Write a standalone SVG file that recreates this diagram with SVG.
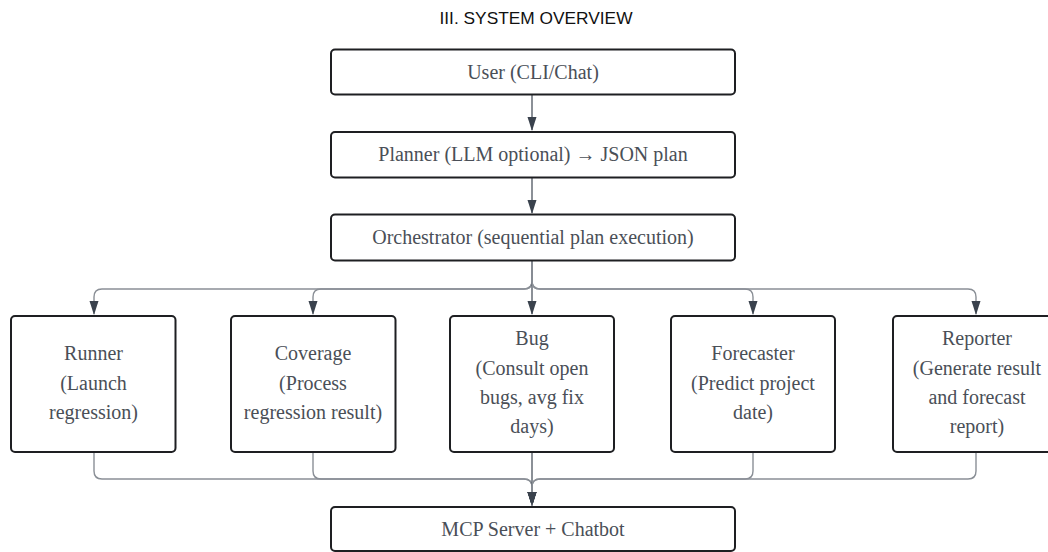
<svg xmlns="http://www.w3.org/2000/svg" width="1048" height="552" viewBox="0 0 1048 552">
<style>
.box{fill:#ffffff;stroke:#1e1f22;stroke-width:2}
.t{font-family:"Liberation Serif","Times New Roman",serif;font-size:20px;fill:#4a4f57;text-anchor:middle}
.c{fill:none;stroke:#8a8f96;stroke-width:1.4}
.cd{fill:none;stroke:#5a616b;stroke-width:1.4}
.title{font-family:"Liberation Sans",Arial,sans-serif;font-size:17px;fill:#111;text-anchor:middle}
</style>
<defs>
<marker id="ah" markerWidth="14" markerHeight="10" refX="13" refY="5" orient="auto" markerUnits="userSpaceOnUse" viewBox="0 0 14 10">
<path d="M0,0.5 L14,5 L0,9.5 Z" fill="#3a424d"/>
</marker>
</defs>
<rect width="1048" height="552" fill="#ffffff"/>
<text class="title" x="536" y="23.5" textLength="193" lengthAdjust="spacingAndGlyphs">III. SYSTEM OVERVIEW</text>

<g id="connectors">
<path class="cd" d="M532,95 V130" marker-end="url(#ah)"/>
<path class="cd" d="M532,178 V213" marker-end="url(#ah)"/>
<path class="c" d="M532,261 V281 Q532,289 524,289 H102 Q94,289 94,297 V314" marker-end="url(#ah)"/>
<path class="c" d="M532,261 V281 Q532,289 524,289 H321 Q313,289 313,297 V314" marker-end="url(#ah)"/>
<path class="cd" d="M532,261 V314" marker-end="url(#ah)"/>
<path class="c" d="M532,261 V281 Q532,289 540,289 H745 Q753,289 753,297 V314" marker-end="url(#ah)"/>
<path class="c" d="M532,261 V281 Q532,289 540,289 H968 Q976,289 976,297 V314" marker-end="url(#ah)"/>
<path class="c" d="M94,452 V471 Q94,479 102,479 H524 Q532,479 532,487 V505" marker-end="url(#ah)"/>
<path class="c" d="M313,452 V471 Q313,479 321,479 H524 Q532,479 532,487 V505" marker-end="url(#ah)"/>
<path class="cd" d="M532,452 V505" marker-end="url(#ah)"/>
<path class="c" d="M753,452 V471 Q753,479 745,479 H540 Q532,479 532,487 V505" marker-end="url(#ah)"/>
<path class="c" d="M976,452 V471 Q976,479 968,479 H540 Q532,479 532,487 V505" marker-end="url(#ah)"/>
</g>

<g id="user">
<rect class="box" x="331" y="49.5" width="404" height="45" rx="4"/>
<text class="t" x="533" y="78.5">User (CLI/Chat)</text>
</g>
<g id="planner">
<rect class="box" x="331" y="132" width="404" height="45.5" rx="4"/>
<text class="t" x="533" y="161">Planner (LLM optional) → JSON plan</text>
</g>
<g id="orchestrator">
<rect class="box" x="331" y="214.5" width="404" height="46" rx="4"/>
<text class="t" x="533" y="244">Orchestrator (sequential plan execution)</text>
</g>
<g id="runner">
<rect class="box" x="11" y="316" width="164.5" height="136" rx="4"/>
<text class="t" x="93.5" y="360">Runner</text>
<text class="t" x="93.5" y="390">(Launch</text>
<text class="t" x="93.5" y="419">regression)</text>
</g>
<g id="coverage">
<rect class="box" x="231" y="316" width="164.5" height="136" rx="4"/>
<text class="t" x="313" y="360">Coverage</text>
<text class="t" x="313" y="390">(Process</text>
<text class="t" x="313" y="419">regression result)</text>
</g>
<g id="bug">
<rect class="box" x="450" y="316" width="164" height="136" rx="4"/>
<text class="t" x="532" y="345">Bug</text>
<text class="t" x="532" y="375">(Consult open</text>
<text class="t" x="532" y="404">bugs, avg fix</text>
<text class="t" x="532" y="433">days)</text>
</g>
<g id="forecaster">
<rect class="box" x="671" y="316" width="164" height="136" rx="4"/>
<text class="t" x="753" y="360">Forecaster</text>
<text class="t" x="753" y="390">(Predict project</text>
<text class="t" x="753" y="419">date)</text>
</g>
<g id="reporter">
<rect class="box" x="893" y="316" width="165" height="136" rx="4"/>
<text class="t" x="977" y="345">Reporter</text>
<text class="t" x="977" y="375">(Generate result</text>
<text class="t" x="977" y="404">and forecast</text>
<text class="t" x="977" y="433">report)</text>
</g>
<g id="mcp">
<rect class="box" x="331" y="507" width="404" height="44" rx="4"/>
<text class="t" x="533" y="535.5">MCP Server + Chatbot</text>
</g>
</svg>
